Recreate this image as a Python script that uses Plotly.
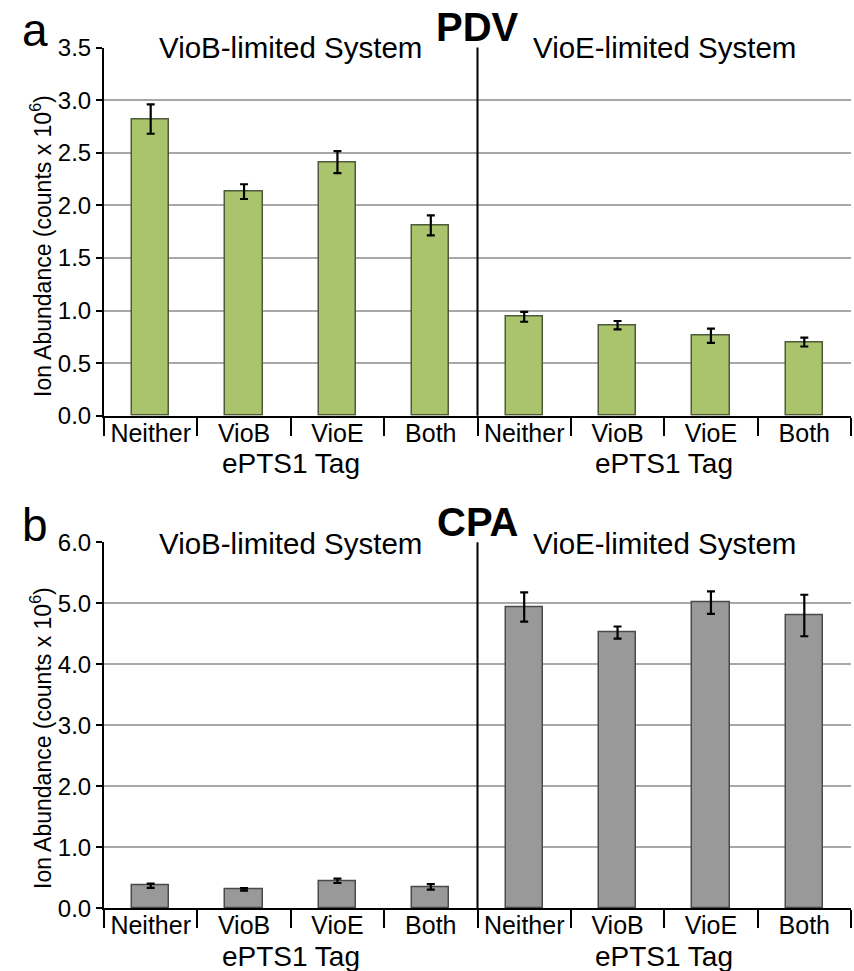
import plotly.graph_objects as go

# ePTS1 tag conditions, repeated for the two limiting systems
categories = ["Neither", "VioB", "VioE", "Both"]
systems = ["VioB-limited System", "VioE-limited System"]

# PDV ion abundance (counts x 10^6) and error
pdv_mean = [2.82, 2.13, 2.41, 1.81, 0.94, 0.86, 0.76, 0.70]
pdv_err = [0.14, 0.07, 0.105, 0.095, 0.047, 0.04, 0.068, 0.042]

# CPA ion abundance (counts x 10^6) and error
cpa_mean = [0.37, 0.31, 0.45, 0.35, 4.94, 4.52, 5.01, 4.80]
cpa_err = [0.035, 0.02, 0.035, 0.045, 0.24, 0.10, 0.185, 0.34]

pdv_ticks = [0.0, 0.5, 1.0, 1.5, 2.0, 2.5, 3.0, 3.5]
cpa_ticks = [0.0, 1.0, 2.0, 3.0, 4.0, 5.0, 6.0]

W, H = 854, 971
FONT = "Liberation Sans, Arial, Helvetica, sans-serif"

labels = categories * len(systems)
pos = list(range(len(labels)))
n = len(labels)


def px_y(v):
    return 1 - v / H


def px_x(v):
    return v / W


fig = go.Figure()

fig.add_trace(go.Bar(
    x=pos, y=pdv_mean, width=0.4, xaxis="x", yaxis="y",
    marker=dict(color="#a9c46d", line=dict(color="#4f5a3a", width=1.5)),
    error_y=dict(type="data", array=pdv_err, visible=True,
                 color="black", thickness=2.2, width=4),
    showlegend=False, hoverinfo="skip",
))
fig.add_trace(go.Bar(
    x=pos, y=cpa_mean, width=0.4, xaxis="x2", yaxis="y2",
    marker=dict(color="#999999", line=dict(color="#4a4a4a", width=1.5)),
    error_y=dict(type="data", array=cpa_err, visible=True,
                 color="black", thickness=2.2, width=4),
    showlegend=False, hoverinfo="skip",
))

x_dom = [px_x(104), px_x(851)]
ya_dom = [px_y(415.7), px_y(47.5)]
yb_dom = [px_y(908.3), px_y(542.3)]

xcommon = dict(
    range=[-0.5, n - 0.5], domain=x_dom, automargin=False,
    tickmode="array", tickvals=pos, ticktext=labels, ticks="",
    ticklabelstandoff=-6,
    showline=True, linecolor="black", linewidth=2,
    showgrid=False, zeroline=False,
    tickfont=dict(family=FONT, size=25, color="black"),
    minor=dict(tick0=-0.5, dtick=1, ticks="outside", ticklen=18,
               tickwidth=2, tickcolor="black", showgrid=False),
)
ycommon = dict(
    automargin=False,
    ticks="outside", ticklen=6, tickwidth=2, tickcolor="black",
    showline=True, linecolor="black", linewidth=2,
    showgrid=True, gridcolor="#a8a8a8", gridwidth=2,
    zeroline=False, tickformat=".1f",
    tickfont=dict(family=FONT, size=24, color="black"),
)

fig.update_layout(
    template="none",
    width=W, height=H,
    margin=dict(l=0, r=0, t=0, b=0, autoexpand=False),
    paper_bgcolor="white", plot_bgcolor="white",
    bargap=0,
    xaxis=dict(anchor="y", **xcommon),
    xaxis2=dict(anchor="y2", **xcommon),
    yaxis=dict(anchor="x", domain=ya_dom, range=[0, 3.5],
               tickmode="array", tickvals=pdv_ticks, **ycommon),
    yaxis2=dict(anchor="x2", domain=yb_dom, range=[0, 6.0],
                tickmode="array", tickvals=cpa_ticks, **ycommon),
)

# divider between the two systems
for xr, yr in [("x", "y domain"), ("x2", "y2 domain")]:
    fig.add_shape(type="line", xref=xr, yref=yr,
                  x0=(n - 1) / 2, x1=(n - 1) / 2, y0=0, y1=1,
                  line=dict(color="black", width=2))


def text_at(text, x, y, size, xref="paper", angle=0):
    return dict(text=text, x=x, y=y, xref=xref, yref="paper",
                xanchor="center", yanchor="middle", textangle=angle,
                showarrow=False, font=dict(family=FONT, size=size, color="black"))


ann = []
panels = [("a", "PDV", "x", 30, 27, 47, 463, 246),
          ("b", "CPA", "x2", 525, 522, 543, 956, 738)]
for letter, title, xr, ly, ty, sy, ey, my in panels:
    ann.append(text_at(letter, px_x(35), px_y(ly), 46))
    ann.append(text_at(f"<b>{title}</b>", px_x(478), px_y(ty), 40))
    for k, sysname in enumerate(systems):
        centre = (len(categories) - 1) / 2 + k * len(categories)
        ann.append(text_at(sysname, centre, px_y(sy), 29.5, xref=xr))
        ann.append(text_at("ePTS1 Tag", centre, px_y(ey), 28, xref=xr))
    ann.append(text_at("Ion Abundance (counts x 10<sup>6</sup>)",
                       px_x(41), px_y(my), 23, angle=-90))

fig.update_layout(annotations=ann)

fig.write_html("out.html")
